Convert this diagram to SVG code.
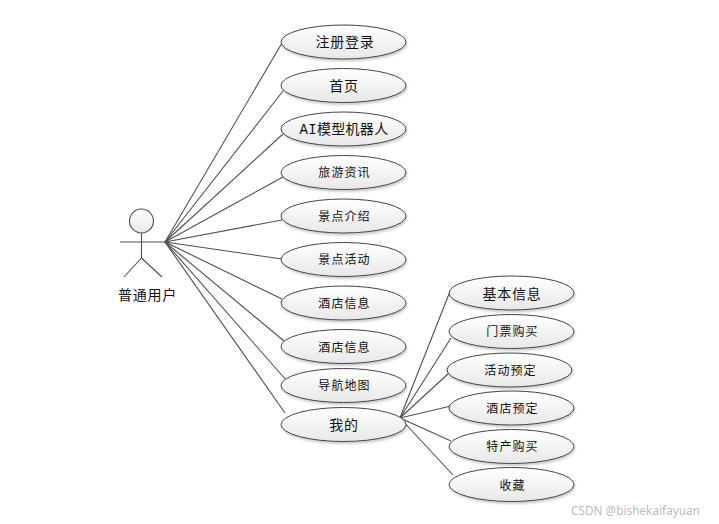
<svg xmlns="http://www.w3.org/2000/svg" width="719" height="524" viewBox="0 0 719 524">
<style>
.n ellipse{fill:url(#g);stroke:#444;stroke-width:1;filter:url(#s)}
.n text,.a text{font-family:"Noto Sans CJK SC","Noto Sans",sans-serif;fill:#111;text-anchor:middle}
.l{font-size:14px;letter-spacing:.7px}.m{font-size:12px;letter-spacing:1.1px}
#c line,.a path,.a circle{stroke:#4f4f4f;stroke-width:1.1;fill:none}
</style>
<defs>
<linearGradient id="g" x1="0" y1="0" x2="0" y2="1"><stop offset="0" stop-color="#fff"/><stop offset="1" stop-color="#e8e8e8"/></linearGradient>
<linearGradient id="h" x1="0" y1="0" x2="0" y2="1"><stop offset="0" stop-color="#fff"/><stop offset="1" stop-color="#e8e8e8"/></linearGradient>
<filter id="s" x="-10%" y="-20%" width="120%" height="150%"><feDropShadow dx="1" dy="2" stdDeviation="1" flood-color="#000" flood-opacity=".2"/></filter>
</defs>
<rect width="719" height="524" fill="#fff"/>
<g id="c">
<line x1="165" y1="242" x2="282" y2="43"/>
<line x1="165" y1="242" x2="283" y2="91"/>
<line x1="165" y1="242" x2="283" y2="134"/>
<line x1="165" y1="242" x2="283" y2="177"/>
<line x1="165" y1="242" x2="282" y2="220"/>
<line x1="165" y1="242" x2="282" y2="259"/>
<line x1="165" y1="242" x2="282" y2="299"/>
<line x1="165" y1="242" x2="284" y2="341"/>
<line x1="165" y1="242" x2="286" y2="380"/>
<line x1="165" y1="242" x2="285" y2="413"/>
<line x1="400" y1="418" x2="449" y2="294"/>
<line x1="400" y1="418" x2="451" y2="338"/>
<line x1="400" y1="418" x2="449" y2="373"/>
<line x1="400" y1="418" x2="451" y2="406"/>
<line x1="400" y1="418" x2="451" y2="441"/>
<line x1="400" y1="418" x2="453" y2="475"/>
</g>
<g id="actor" class="a">
<circle cx="141.500" cy="221" r="12" style="fill:url(#h)"/>
<path d="M141.500 233V258M120 242H165M141.500 258L124 277M141.500 258L162 277"/>
<text x="147.500" y="300" font-size="14" letter-spacing=".7">普通用户</text>
</g>
<g id="n1" class="n"><ellipse cx="343.500" cy="42" rx="62.500" ry="17"/><text class="l" x="345" y="47">注册登录</text></g>
<g id="n2" class="n"><ellipse cx="343.500" cy="85.500" rx="62.500" ry="17"/><text class="l" x="344" y="90.500">首页</text></g>
<g id="n3" class="n"><ellipse cx="343.500" cy="129" rx="62.500" ry="17"/><text class="l" x="344" y="134" style="letter-spacing:.3px"><tspan font-family="Liberation Mono">AI</tspan>模型机器人</text></g>
<g id="n4" class="n"><ellipse cx="343.500" cy="172.500" rx="62.500" ry="17"/><text class="m" x="344.500" y="177">旅游资讯</text></g>
<g id="n5" class="n"><ellipse cx="343.500" cy="216" rx="62.500" ry="17"/><text class="m" x="344.500" y="220.500">景点介绍</text></g>
<g id="n6" class="n"><ellipse cx="343.500" cy="259.500" rx="62.500" ry="17"/><text class="m" x="344.500" y="264">景点活动</text></g>
<g id="n7" class="n"><ellipse cx="343.500" cy="303" rx="62.500" ry="17"/><text class="m" x="344.500" y="307.500">酒店信息</text></g>
<g id="n8" class="n"><ellipse cx="343.500" cy="346.500" rx="62.500" ry="17"/><text class="m" x="344.500" y="351.500">酒店信息</text></g>
<g id="n9" class="n"><ellipse cx="343.500" cy="385.500" rx="62.500" ry="17"/><text class="m" x="344.500" y="390">导航地图</text></g>
<g id="n10" class="n"><ellipse cx="343.500" cy="424.500" rx="62.500" ry="17"/><text class="l" x="344" y="430">我的</text></g>
<g id="n11" class="n"><ellipse cx="511.500" cy="293" rx="62.500" ry="17"/><text class="l" x="512" y="298.500">基本信息</text></g>
<g id="n12" class="n"><ellipse cx="511.500" cy="331.500" rx="62.500" ry="17"/><text class="m" x="512.500" y="336">门票购买</text></g>
<g id="n13" class="n"><ellipse cx="509.500" cy="370" rx="62.500" ry="17"/><text class="m" x="510.500" y="374.500">活动预定</text></g>
<g id="n14" class="n"><ellipse cx="511.500" cy="408" rx="62.500" ry="17"/><text class="m" x="512.500" y="412.500">酒店预定</text></g>
<g id="n15" class="n"><ellipse cx="511.500" cy="446.500" rx="62.500" ry="17"/><text class="m" x="512.500" y="451">特产购买</text></g>
<g id="n16" class="n"><ellipse cx="511.500" cy="484.500" rx="62.500" ry="17"/><text class="m" x="512.500" y="489.500">收藏</text></g>
<text x="635.500" y="515" font-family="Noto Sans,sans-serif" font-size="11.800" fill="#bbb" text-anchor="middle">CSDN @bishekaifayuan</text>
</svg>
